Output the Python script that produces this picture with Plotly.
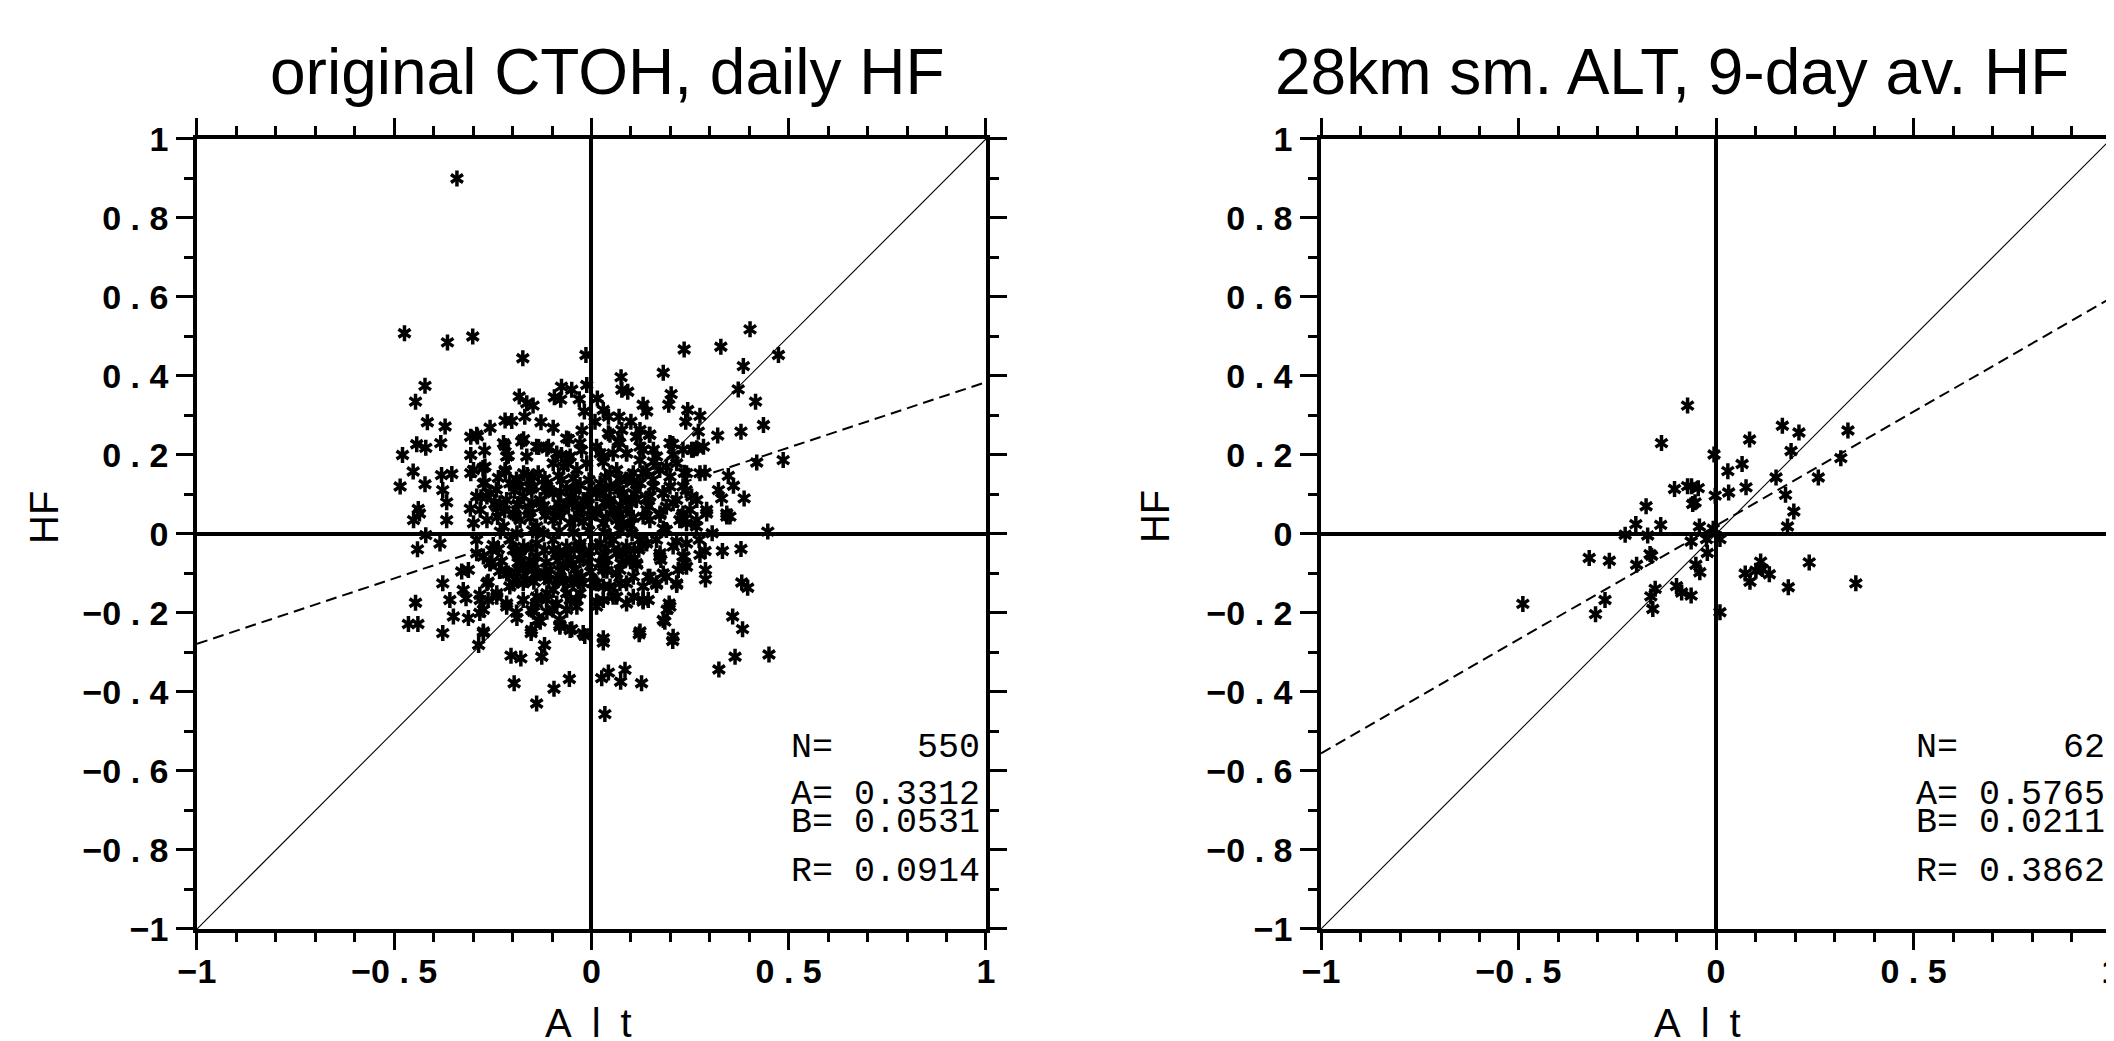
import plotly.graph_objects as go

# panel texts and regression statistics
titles = ["original CTOH, daily HF", "28km sm. ALT, 9-day av. HF"]
n_pts = [550, 62]
slope_a = [0.3312, 0.5765]
icept_b = [0.0531, 0.0211]
corr_r = [0.0914, 0.3862]

sp = "\u00a0"
x_ticks = [-1, -0.5, 0, 0.5, 1]
x_ticktext = ["−1", "−0" + sp + "." + sp + "5", "0", "0" + sp + "." + sp + "5", "1"]
y_ticks = [-1, -0.8, -0.6, -0.4, -0.2, 0, 0.2, 0.4, 0.6, 0.8, 1]
y_ticktext = ["−1"] + ["−0" + sp + "." + sp + d for d in "8642"] + ["0"] + \
             ["0" + sp + "." + sp + d for d in "2468"] + ["1"]

# left panel (Alt, HF)
daily_outer = [(-0.341, 0.9)]
daily_nw = [(-0.474, 0.508), (-0.365, 0.485), (-0.301, 0.5), (-0.174, 0.445), (-0.014, 0.453),
            (-0.422, 0.375), (-0.446, 0.335), (-0.416, 0.283), (-0.371, 0.272), (-0.443, 0.227),
            (-0.42, 0.218), (-0.382, 0.23), (-0.479, 0.2), (-0.452, 0.158), (-0.485, 0.12),
            (-0.422, 0.126), (-0.38, 0.149), (-0.354, 0.152), (-0.377, 0.111), (-0.367, 0.08),
            (-0.439, 0.063), (-0.183, 0.348), (-0.164, 0.331), (-0.148, 0.325), (-0.169, 0.297),
            (-0.219, 0.287), (-0.202, 0.286), (-0.128, 0.283), (-0.257, 0.269), (-0.097, 0.269),
            (-0.076, 0.373), (-0.05, 0.365), (-0.094, 0.346), (-0.078, 0.34), (-0.031, 0.341),
            (-0.012, 0.377), (-0.018, 0.31), (-0.024, 0.262), (-0.058, 0.24), (-0.306, 0.246),
            (-0.289, 0.247), (-0.172, 0.24), (-0.306, 0.2), (-0.271, 0.211), (-0.219, 0.223),
            (-0.211, 0.198), (-0.306, 0.154), (-0.275, 0.167), (-0.218, 0.158), (-0.163, 0.149),
            (-0.134, 0.22), (-0.113, 0.216), (-0.076, 0.2), (-0.06, 0.178), (-0.025, 0.212),
            (-0.27, 0.13), (-0.207, 0.128), (-0.181, 0.12), (-0.147, 0.12), (-0.113, 0.12),
            (-0.075, 0.137), (-0.043, 0.111), (-0.307, 0.064), (-0.28, 0.093), (-0.245, 0.076),
            (-0.22, 0.06), (-0.186, 0.076), (-0.16, 0.06), (-0.126, 0.068), (-0.092, 0.06),
            (-0.058, 0.076), (-0.025, 0.06), (-0.008, 0.093)]
daily_ne = [(0.402, 0.518), (0.235, 0.467), (0.328, 0.474), (0.385, 0.425), (0.474, 0.453),
            (0.182, 0.408), (0.075, 0.397), (0.077, 0.365), (0.092, 0.36), (0.202, 0.354),
            (0.196, 0.327), (0.372, 0.366), (0.416, 0.335), (0.015, 0.343), (0.03, 0.314),
            (0.131, 0.327), (0.14, 0.31), (0.07, 0.297), (0.1, 0.284), (0.244, 0.314),
            (0.275, 0.299), (0.239, 0.284), (0.271, 0.259), (0.32, 0.249), (0.379, 0.259),
            (0.436, 0.276), (0.043, 0.255), (0.077, 0.263), (0.123, 0.263), (0.147, 0.251),
            (0.068, 0.234), (0.013, 0.221), (0.206, 0.228), (0.254, 0.213), (0.284, 0.221),
            (0.267, 0.217), (0.123, 0.221), (0.157, 0.213), (0.03, 0.196), (0.089, 0.204),
            (0.123, 0.187), (0.207, 0.2), (0.19, 0.17), (0.157, 0.183), (0.419, 0.181),
            (0.486, 0.187), (0.047, 0.154), (0.098, 0.145), (0.131, 0.154), (0.235, 0.155),
            (0.275, 0.154), (0.288, 0.155), (0.199, 0.145), (0.347, 0.147), (0.36, 0.122),
            (0.322, 0.111), (0.33, 0.09), (0.387, 0.09), (0.24, 0.111), (0.267, 0.086),
            (0.292, 0.061), (0.022, 0.111), (0.064, 0.12), (0.114, 0.111), (0.157, 0.12),
            (0.182, 0.103), (0.047, 0.078), (0.089, 0.086), (0.14, 0.09), (0.207, 0.078),
            (0.013, 0.061), (0.072, 0.052), (0.131, 0.044), (0.174, 0.052), (0.229, 0.044),
            (0.25, 0.061), (0.343, 0.052), (0.351, 0.044), (0.009, 0.284), (0.043, 0.297)]
daily_sw = [(-0.451, 0.035), (-0.436, 0.052), (-0.367, 0.035), (-0.42, -0.003), (-0.384, -0.024),
            (-0.441, -0.039), (-0.291, -0.049), (-0.253, -0.07), (-0.329, -0.095), (-0.312, -0.091),
            (-0.377, -0.125), (-0.325, -0.142), (-0.262, -0.121), (-0.211, -0.1), (-0.207, -0.133),
            (-0.173, -0.125), (-0.446, -0.174), (-0.359, -0.167), (-0.318, -0.163), (-0.283, -0.154),
            (-0.24, -0.159), (-0.262, -0.167), (-0.215, -0.184), (-0.464, -0.228), (-0.44, -0.228),
            (-0.35, -0.209), (-0.312, -0.213), (-0.283, -0.2), (-0.377, -0.251), (-0.19, -0.199),
            (-0.152, -0.192), (-0.135, -0.218), (-0.153, -0.251), (-0.274, -0.251), (-0.286, -0.281),
            (-0.08, -0.23), (-0.05, -0.241), (-0.017, -0.258), (-0.119, -0.281), (-0.126, -0.311),
            (-0.204, -0.308), (-0.179, -0.315), (-0.196, -0.378), (-0.095, -0.392), (-0.056, -0.367),
            (-0.139, -0.429), (-0.114, -0.167), (-0.097, -0.192), (-0.063, -0.192), (-0.037, -0.167),
            (-0.063, -0.15), (-0.097, -0.142), (-0.139, -0.176), (-0.173, -0.167), (-0.118, -0.108),
            (-0.147, -0.074), (-0.173, -0.091), (-0.253, -0.041), (-0.257, -0.074), (-0.198, -0.041),
            (-0.181, -0.057), (-0.097, -0.041), (-0.063, -0.049), (-0.029, -0.066), (-0.029, -0.032),
            (-0.08, -0.108), (-0.046, -0.125), (-0.025, -0.108), (-0.029, -0.15)]
daily_se = [(0.447, 0.006), (0.379, -0.038), (0.332, -0.043), (0.288, -0.043), (0.275, -0.053),
            (0.306, 0.002), (0.289, -0.091), (0.289, -0.115), (0.235, -0.057), (0.237, -0.074),
            (0.22, -0.091), (0.216, -0.129), (0.19, -0.108), (0.165, -0.129), (0.144, -0.108),
            (0.174, -0.049), (0.176, -0.066), (0.216, -0.019), (0.273, -0.015), (0.381, -0.123),
            (0.396, -0.136), (0.197, -0.176), (0.192, -0.192), (0.186, -0.222), (0.121, -0.254),
            (0.206, -0.271), (0.03, -0.275), (0.358, -0.209), (0.383, -0.241), (0.364, -0.311),
            (0.45, -0.305), (0.323, -0.343), (0.026, -0.365), (0.043, -0.351), (0.085, -0.344),
            (0.074, -0.374), (0.127, -0.378), (0.034, -0.456), (0.115, -0.078), (0.131, -0.171),
            (0.144, -0.167), (0.106, -0.159), (0.064, -0.159), (0.013, -0.171), (0.047, -0.133),
            (0.089, -0.125), (0.106, -0.108), (0.072, -0.091), (0.03, -0.091), (0.08, -0.049),
            (0.039, -0.066), (0.123, -0.015), (0.14, -0.024), (0.19, 0.01), (0.241, 0.027),
            (0.267, 0.035), (0.343, 0.044), (0.292, 0.052), (0.174, 0.048), (0.08, 0.027),
            (0.047, -0.007), (0.013, -0.032), (0.013, -0.125), (0.022, -0.074)]
daily_core = [(-0.291, 0.251), (-0.223, 0.23), (-0.177, 0.234), (-0.139, 0.221), (-0.109, 0.221),
              (-0.063, 0.242), (-0.029, 0.23), (0.047, 0.251), (0.072, 0.23), (0.114, 0.246),
              (0.148, 0.251), (0.199, 0.23), (0.232, 0.213), (0.258, 0.213),
              (-0.215, 0.196), (-0.164, 0.196), (-0.088, 0.204), (-0.054, 0.196), (0.022, 0.204),
              (0.055, 0.204), (0.089, 0.204), (0.131, 0.213), (0.165, 0.196),
              (-0.299, 0.162), (-0.27, 0.17), (-0.219, 0.162), (-0.172, 0.154), (-0.135, 0.154),
              (-0.097, 0.179), (-0.071, 0.17), (-0.037, 0.162), (-0.012, 0.179), (0.03, 0.183),
              (0.064, 0.162), (0.106, 0.154), (0.14, 0.158), (0.173, 0.162), (0.216, 0.179),
              (0.241, 0.154),
              (-0.274, 0.128), (-0.198, 0.128), (-0.156, 0.12), (-0.113, 0.128), (-0.063, 0.116),
              (-0.029, 0.124), (0.022, 0.128), (0.047, 0.12), (0.089, 0.137), (0.123, 0.128),
              (0.156, 0.137), (0.199, 0.12), (0.232, 0.12),
              (-0.291, 0.095), (-0.257, 0.103), (-0.215, 0.086), (-0.172, 0.095), (-0.13, 0.086),
              (-0.097, 0.103), (-0.054, 0.095), (-0.021, 0.086), (0.013, 0.103), (0.047, 0.086),
              (0.081, 0.103), (0.114, 0.086), (0.148, 0.095), (0.182, 0.103), (0.216, 0.086),
              (0.254, 0.095),
              (-0.282, 0.061), (-0.24, 0.069), (-0.198, 0.052), (-0.156, 0.065), (-0.113, 0.057),
              (-0.071, 0.061), (-0.037, 0.069), (0.013, 0.052), (0.055, 0.061), (0.089, 0.061),
              (0.14, 0.061), (0.19, 0.069), (0.232, 0.052),
              (-0.299, 0.027), (-0.265, 0.035), (-0.223, 0.019), (-0.181, 0.035), (-0.139, 0.019),
              (-0.097, 0.035), (-0.054, 0.027), (-0.021, 0.031), (0.03, 0.027), (0.064, 0.035),
              (0.098, 0.023), (0.148, 0.035), (0.182, 0.014), (0.224, 0.035), (0.266, 0.019),
              (-0.291, -0.015), (-0.249, -0.028), (-0.206, -0.015), (-0.172, -0.032), (-0.139, -0.024),
              (-0.097, -0.015), (-0.063, -0.032), (-0.029, -0.024), (0.022, -0.024), (0.055, -0.015),
              (0.089, -0.032), (0.131, -0.024), (0.165, -0.015), (0.207, -0.032), (0.241, -0.024),
              (-0.274, -0.057), (-0.181, -0.057), (-0.139, -0.057), (-0.088, -0.049), (-0.054, -0.066),
              (-0.021, -0.049), (0.03, -0.057), (0.064, -0.049), (0.098, -0.062), (0.173, -0.057),
              (0.232, -0.057),
              (-0.257, -0.074), (-0.215, -0.1), (-0.172, -0.083), (-0.139, -0.1), (-0.105, -0.091),
              (-0.071, -0.083), (-0.037, -0.1), (0.03, -0.083), (0.064, -0.1), (0.114, -0.074),
              (0.148, -0.108), (0.182, -0.1), (0.216, -0.125), (0.241, -0.083),
              (-0.265, -0.125), (-0.198, -0.125), (-0.164, -0.116), (-0.088, -0.116), (-0.054, -0.116),
              (-0.021, -0.125), (0.03, -0.133), (0.072, -0.125), (0.131, -0.133), (0.165, -0.125),
              (-0.282, -0.167), (-0.24, -0.15), (-0.215, -0.176), (-0.139, -0.159), (-0.113, -0.15),
              (-0.088, -0.176), (-0.054, -0.167), (-0.037, -0.184), (0.03, -0.167), (0.055, -0.159),
              (0.089, -0.176), (0.131, -0.167), (0.199, -0.184), (-0.274, -0.192), (-0.147, -0.197),
              (-0.113, -0.197), (-0.08, -0.218), (0.013, -0.184),
              (-0.274, -0.247), (-0.189, -0.213), (-0.152, -0.243), (-0.13, -0.222), (-0.08, -0.235),
              (-0.054, -0.243), (-0.021, -0.251), (0.03, -0.264), (0.123, -0.247), (0.182, -0.218),
              (0.207, -0.26)]
# the solid black middle of the cloud, estimated
daily_dense = [(-0.236, 0.142), (-0.19, 0.138), (-0.148, 0.145), (-0.118, 0.139), (-0.083, 0.147),
               (-0.046, 0.141), (-0.006, 0.136), (0.036, 0.144), (0.071, 0.139), (0.104, 0.133),
               (-0.241, 0.112), (-0.195, 0.109), (-0.152, 0.115), (-0.116, 0.108), (-0.078, 0.106),
               (-0.041, 0.113), (-0.003, 0.108), (0.031, 0.104), (0.068, 0.111), (0.109, 0.102),
               (-0.232, 0.078), (-0.187, 0.074), (-0.151, 0.079), (-0.121, 0.071), (-0.084, 0.077),
               (-0.047, 0.081), (-0.008, 0.074), (0.033, 0.079), (0.074, 0.072), (0.101, 0.078),
               (-0.238, 0.043), (-0.193, 0.048), (-0.155, 0.041), (-0.117, 0.047), (-0.079, 0.044),
               (-0.043, 0.039), (-0.004, 0.046), (0.038, 0.042), (0.069, 0.048), (0.106, 0.041),
               (-0.231, 0.006), (-0.189, 0.002), (-0.149, 0.009), (-0.122, 0.001), (-0.082, 0.007),
               (-0.045, 0.003), (-0.007, 0.008), (0.034, 0.004), (0.072, 0.009), (0.103, 0.002),
               (-0.236, -0.038), (-0.191, -0.043), (-0.153, -0.036), (-0.119, -0.041), (-0.081, -0.045),
               (-0.044, -0.039), (-0.005, -0.043), (0.037, -0.037), (0.07, -0.044), (0.108, -0.04),
               (-0.228, -0.069), (-0.186, -0.073), (-0.156, -0.067), (-0.115, -0.072), (-0.085, -0.068),
               (-0.048, -0.075), (-0.009, -0.071), (0.032, -0.068), (0.075, -0.074), (0.099, -0.069),
               (-0.233, -0.094), (-0.192, -0.097), (-0.15, -0.092), (-0.12, -0.098), (-0.079, -0.094),
               (-0.042, -0.091), (-0.002, -0.096), (0.039, -0.093),
               (-0.188, -0.118), (-0.146, -0.121), (-0.108, -0.117), (-0.071, -0.122), (-0.033, -0.119),
               (0.006, -0.123), (-0.265, 0.095), (0.145, 0.07), (-0.06, 0.19), (0.12, -0.04)]

# right panel (smoothed Alt, 9-day HF)
avg_pts = [(-0.072, 0.325), (-0.138, 0.23), (-0.005, 0.201), (0.168, 0.274), (0.21, 0.257),
           (0.085, 0.239), (0.334, 0.262), (0.19, 0.21), (0.03, 0.159), (0.066, 0.177),
           (0.316, 0.192), (0.152, 0.143), (0.259, 0.143), (0.076, 0.118), (0.032, 0.105),
           (-0.002, 0.097), (0.176, 0.099), (0.197, 0.057), (0.181, 0.019), (-0.105, 0.114),
           (-0.072, 0.121), (-0.062, 0.121), (-0.045, 0.116), (-0.059, 0.076), (-0.053, 0.08),
           (-0.177, 0.07), (-0.203, 0.025), (-0.14, 0.023), (-0.23, -0.002), (-0.173, -0.004),
           (-0.042, 0.019), (-0.063, -0.019), (-0.024, -0.013), (0.01, -0.013), (-0.022, -0.048),
           (-0.167, -0.051), (-0.163, -0.055), (-0.321, -0.061), (-0.27, -0.068), (-0.201, -0.078),
           (-0.051, -0.078), (-0.041, -0.097), (0.074, -0.1), (0.086, -0.121), (0.101, -0.093),
           (0.113, -0.07), (0.118, -0.089), (0.135, -0.102), (0.236, -0.072), (0.183, -0.135),
           (0.354, -0.125), (-0.1, -0.132), (-0.087, -0.148), (-0.063, -0.156), (-0.154, -0.139),
           (-0.165, -0.158), (-0.16, -0.19), (-0.281, -0.167), (-0.305, -0.203), (-0.489, -0.177),
           (0.01, -0.198), (-0.007, 0.013)]

daily_pts = daily_outer + daily_nw + daily_ne + daily_sw + daily_se + daily_core + daily_dense
panels = [daily_pts, avg_pts]

fig = go.Figure()

for i, pts in enumerate(panels):
    xa = "x" if i == 0 else "x2"
    ya = "y" if i == 0 else "y2"
    px = [p[0] for p in pts]
    py = [p[1] for p in pts]
    # thin 1:1 line
    fig.add_trace(go.Scatter(x=[-1, 1], y=[-1, 1], mode="lines", xaxis=xa, yaxis=ya,
                             line=dict(color="black", width=1.1), hoverinfo="none"))
    # regression line y = A*x + B
    fig.add_trace(go.Scatter(x=[-1, 1], y=[icept_b[i] - slope_a[i], icept_b[i] + slope_a[i]],
                             mode="lines", xaxis=xa, yaxis=ya,
                             line=dict(color="black", width=2, dash="11px,6px"), hoverinfo="none"))
    # six-armed asterisks built from two Y symbols
    for sym in ["y-up-open", "y-down-open"]:
        fig.add_trace(go.Scatter(x=px, y=py, mode="markers", xaxis=xa, yaxis=ya,
                                 marker=dict(symbol=sym, size=10, color="black",
                                             line=dict(color="black", width=3.5)),
                                 hoverinfo="none"))

tick_font = dict(family="Liberation Sans", size=34, color="black", weight="bold")

def xaxis_style(domain, anchor):
    return dict(domain=domain, range=[-1, 1], anchor=anchor, showgrid=False, automargin=False,
                zeroline=True, zerolinecolor="black", zerolinewidth=3.5,
                showline=True, linecolor="black", linewidth=3.5, mirror="allticks",
                ticks="outside", ticklen=17, tickwidth=2.5, tickcolor="black",
                tickvals=x_ticks, ticktext=x_ticktext, tickfont=tick_font,
                ticklabelstandoff=-8,
                minor=dict(dtick=0.1, ticks="outside", ticklen=9, tickwidth=2.5,
                           tickcolor="black", showgrid=False))

def yaxis_style(domain, anchor):
    return dict(domain=domain, range=[-1, 1], anchor=anchor, showgrid=False, automargin=False,
                zeroline=True, zerolinecolor="black", zerolinewidth=3.5,
                showline=True, linecolor="black", linewidth=3.5, mirror="allticks",
                ticks="outside", ticklen=17, tickwidth=2.5, tickcolor="black",
                tickvals=y_ticks, ticktext=y_ticktext, tickfont=tick_font,
                ticklabelstandoff=1,
                minor=dict(dtick=0.1, ticks="outside", ticklen=9, tickwidth=2.5,
                           tickcolor="black", showgrid=False))

# the page body adds an 8 px offset, so paper positions are taken 8 px up/left
annotations = []
title_x = [0.2838, 0.7871]
hf_x = [0.0170, 0.5426]
alt_x = [0.2748, 0.7994]
for i in range(2):
    annotations.append(dict(text=titles[i], x=title_x[i], y=0.939, xref="paper", yref="paper",
                            xanchor="center", yanchor="middle", showarrow=False,
                            font=dict(family="Liberation Sans", size=64, color="black")))
    annotations.append(dict(text="HF", x=hf_x[i], y=0.511, xref="paper", yref="paper",
                            xanchor="center", yanchor="middle", showarrow=False, textangle=-90,
                            font=dict(family="Liberation Sans", size=40, color="black")))
    annotations.append(dict(text="A\u2002l\u2002t", x=alt_x[i], y=0.025, xref="paper", yref="paper",
                            xanchor="center", yanchor="middle", showarrow=False,
                            font=dict(family="Liberation Sans", size=40, color="black")))
    xr = "x" if i == 0 else "x2"
    yr = "y" if i == 0 else "y2"
    stats = [("N=", str(n_pts[i]), -0.542), ("A=", "%.4f" % slope_a[i], -0.661),
             ("B=", "%.4f" % icept_b[i], -0.732), ("R=", "%.4f" % corr_r[i], -0.856)]
    for lab, val, yy in stats:
        line = lab + "\u00a0" * (7 - len(val)) + val
        annotations.append(dict(text=line, x=0.99, y=yy, xref=xr, yref=yr,
                                xanchor="right", yanchor="middle", showarrow=False,
                                font=dict(family="Liberation Mono", size=35, color="black")))

fig.update_layout(
    width=2114, height=1041,
    margin=dict(l=0, r=0, t=0, b=0, autoexpand=False),
    paper_bgcolor="white", plot_bgcolor="white",
    showlegend=False,
    xaxis=xaxis_style([0.0894, 0.4626], "y"),
    yaxis=yaxis_style([0.1153, 0.8742], "x"),
    xaxis2=xaxis_style([0.6211, 0.9948], "y2"),
    yaxis2=yaxis_style([0.1153, 0.8742], "x2"),
    annotations=annotations,
)

fig.write_html("out.html")
